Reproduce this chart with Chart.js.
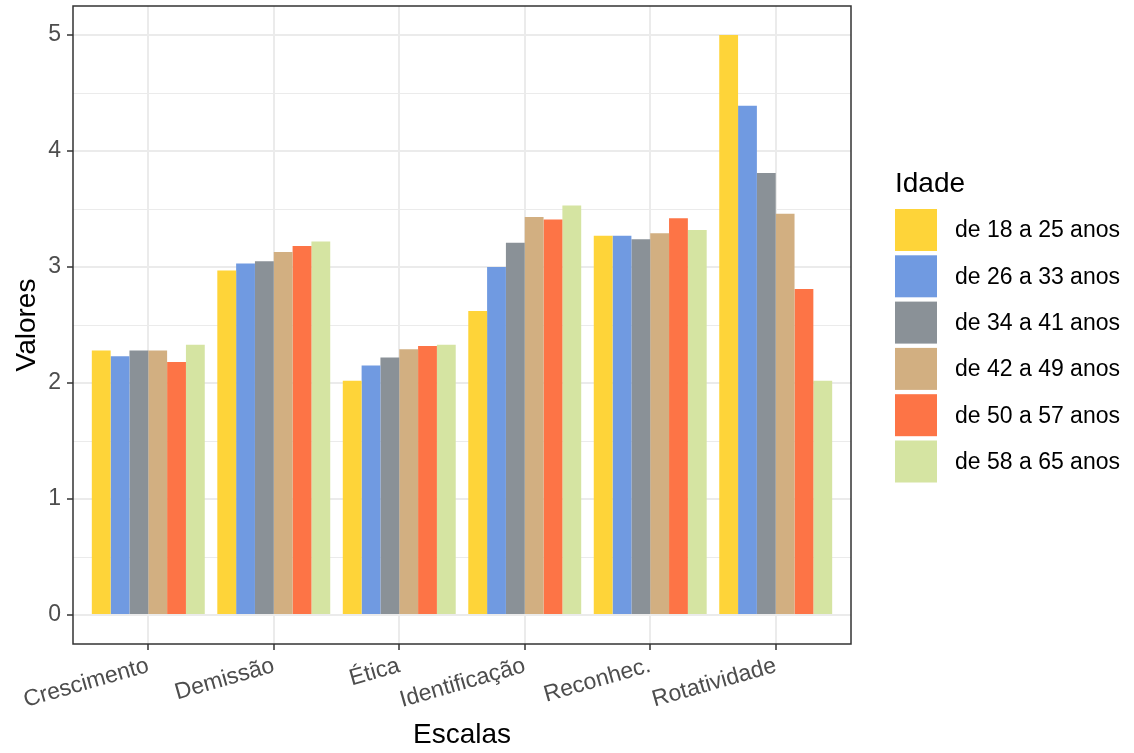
<!DOCTYPE html>
<html>
<head>
<meta charset="utf-8">
<script src="https://cdn.jsdelivr.net/npm/chart.js@4.4.1/dist/chart.umd.min.js"></script>
<style>
  html, body { margin: 0; padding: 0; background: #ffffff; }
  #wrap { width: 1134px; height: 753px; }
</style>
</head>
<body>
<div id="wrap"><canvas id="chart" width="1134" height="753"></canvas></div>
<script>
// data
const categories = ["Crescimento", "Demissão", "Ética", "Identificação", "Reconhec.", "Rotatividade"];
const ageGroups = ["de 18 a 25 anos", "de 26 a 33 anos", "de 34 a 41 anos", "de 42 a 49 anos", "de 50 a 57 anos", "de 58 a 65 anos"];
const age18_25 = [2.28, 2.97, 2.02, 2.62, 3.27, 5.00];
const age26_33 = [2.23, 3.03, 2.15, 3.00, 3.27, 4.39];
const age34_41 = [2.28, 3.05, 2.22, 3.21, 3.24, 3.81];
const age42_49 = [2.28, 3.13, 2.29, 3.43, 3.29, 3.46];
const age50_57 = [2.18, 3.18, 2.32, 3.41, 3.42, 2.81];
const age58_65 = [2.33, 3.22, 2.33, 3.53, 3.32, 2.02];
const yTicks = [0, 1, 2, 3, 4, 5];
const yMinor = [0.5, 1.5, 2.5, 3.5, 4.5];

const seriesValues = [age18_25, age26_33, age34_41, age42_49, age50_57, age58_65];
const colors = ["#FED439", "#709AE1", "#8A9197", "#D2AF81", "#FD7446", "#D5E4A2"];
const FONT = "'Liberation Sans', Arial, sans-serif";

const datasets = ageGroups.map((label, k) => ({
  label: label,
  data: seriesValues[k].map((v, i) => ({ x: i, y: v })),
  backgroundColor: colors[k],
  borderWidth: 0,
  categoryPercentage: 0.9,
  barPercentage: 1.0
}));

// panel border + legend in ggplot style
const ggPanel = {
  id: "ggPanel",
  afterDraw(chart) {
    const { ctx, chartArea } = chart;
    ctx.save();
    ctx.strokeStyle = "#333333";
    ctx.lineWidth = 1.5;
    ctx.strokeRect(chartArea.left, chartArea.top, chartArea.right - chartArea.left, chartArea.bottom - chartArea.top);

    const lx = 895, top = 209, step = 46.3, box = 42;
    ctx.fillStyle = "#000000";
    ctx.font = "28px " + FONT;
    ctx.textAlign = "left";
    ctx.textBaseline = "alphabetic";
    ctx.fillText("Idade", lx, 192);
    ctx.font = "23px " + FONT;
    ctx.textBaseline = "middle";
    chart.data.datasets.forEach((ds, i) => {
      const y = top + i * step;
      ctx.fillStyle = ds.backgroundColor;
      ctx.fillRect(lx, y, box, box);
      ctx.fillStyle = "#000000";
      ctx.fillText(ds.label, 955, y + box / 2 + 1);
    });
    ctx.restore();
  }
};

new Chart(document.getElementById("chart"), {
  type: "bar",
  data: { datasets: datasets },
  options: {
    responsive: false,
    animation: false,
    layout: { padding: { top: 6, right: 283, left: 0, bottom: 0 } },
    plugins: {
      legend: { display: false },
      tooltip: { enabled: false }
    },
    scales: {
      x: {
        type: "linear",
        offset: false,
        min: -0.6,
        max: 5.6,
        afterFit: (scale) => {
          scale.height = 109;
          scale.paddingLeft = 0;
          scale.paddingRight = 0;
        },
        afterBuildTicks: (scale) => { scale.ticks = categories.map((c, i) => ({ value: i })); },
        grid: {
          offset: false,
          color: "#EBEBEB",
          lineWidth: 2,
          tickLength: 6,
          tickColor: "#333333",
          tickWidth: 1.5
        },
        border: { display: false },
        ticks: {
          minRotation: 16,
          maxRotation: 16,
          padding: 2,
          color: "#4D4D4D",
          font: { family: FONT, size: 23 },
          callback: (v) => categories[v]
        },
        title: {
          display: true,
          text: "Escalas",
          color: "#000000",
          font: { family: FONT, size: 28 },
          padding: { top: 0, bottom: 1 }
        }
      },
      y: {
        min: -0.25,
        max: 5.25,
        afterFit: (scale) => {
          scale.width = 73;
          scale.paddingTop = 0;
          scale.paddingBottom = 0;
        },
        afterBuildTicks: (scale) => {
          scale.ticks = yTicks.concat(yMinor).sort((a, b) => a - b).map(v => ({ value: v }));
        },
        grid: {
          color: "#EBEBEB",
          lineWidth: (c) => (yTicks.includes(c.tick.value) ? 2 : 1),
          tickLength: 6,
          tickColor: (c) => (yTicks.includes(c.tick.value) ? "#333333" : "rgba(0,0,0,0)"),
          tickWidth: 1.5
        },
        border: { display: false },
        ticks: {
          padding: 6,
          color: "#4D4D4D",
          font: { family: FONT, size: 23 },
          callback: (v) => (yTicks.includes(v) ? String(v) : "")
        },
        title: {
          display: true,
          text: "Valores",
          color: "#000000",
          font: { family: FONT, size: 28 },
          padding: { top: 10, bottom: 0 }
        }
      }
    }
  },
  plugins: [ggPanel]
});
</script>
</body>
</html>
